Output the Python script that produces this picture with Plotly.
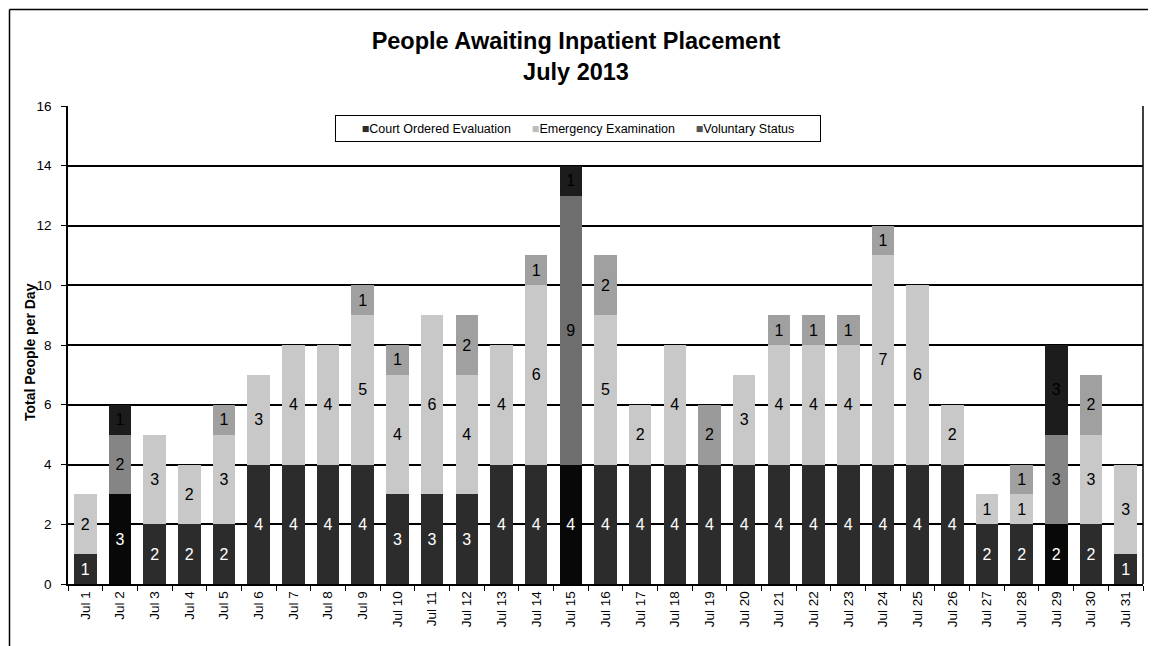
import plotly.graph_objects as go

days = [f"Jul {i}" for i in range(1, 32)]
court = [1, 3, 2, 2, 2, 4, 4, 4, 4, 3, 3, 3, 4, 4, 4, 4, 4, 4, 4, 4, 4, 4, 4, 4, 4, 4, 2, 2, 2, 2, 1]
emergency = [2, 2, 3, 2, 3, 3, 4, 4, 5, 4, 6, 4, 4, 6, 9, 5, 2, 4, 2, 3, 4, 4, 4, 7, 6, 2, 1, 1, 3, 3, 3]
voluntary = [0, 1, 0, 0, 1, 0, 0, 0, 1, 1, 0, 2, 0, 1, 1, 2, 0, 0, 0, 0, 1, 1, 1, 1, 0, 0, 0, 1, 3, 2, 0]
series_names = ["Court Ordered Evaluation", "Emergency Examination", "Voluntary Status"]

# highlighted days in the scan use darker / speckled fills
special = {"Jul 2", "Jul 15", "Jul 29"}
court_colors = ["#080808" if d in special else "#2c2c2c" for d in days]
emerg_colors = []
for d in days:
    if d == "Jul 15":
        emerg_colors.append("#6e6e6e")
    elif d in ("Jul 2", "Jul 29"):
        emerg_colors.append("#858585")
    elif d == "Jul 19":
        emerg_colors.append("#9a9a9a")
    else:
        emerg_colors.append("#c8c8c8")
vol_colors = ["#1c1c1c" if d in special else "#a0a0a0" for d in days]

def labels(vals):
    return [str(v) if v else "" for v in vals]

FONT = "Liberation Sans, Arial"
fig = go.Figure()
for name, vals, cols, tcol in [
    (series_names[0], court, court_colors, "white"),
    (series_names[1], emergency, emerg_colors, "black"),
    (series_names[2], voluntary, vol_colors, "black"),
]:
    fig.add_trace(go.Bar(
        name=name, x=days, y=vals,
        marker=dict(color=cols, line=dict(width=0)),
        text=labels(vals), textposition="inside", insidetextanchor="middle",
        textangle=0, constraintext="none",
        textfont=dict(color=tcol, size=16, family=FONT),
        showlegend=False,
    ))

# page body adds an 8px offset; figure is sized so it ends at the window edge
W, H = 1148, 638
fig.update_layout(
    barmode="stack",
    bargap=0.35,
    width=W, height=H,
    margin=dict(l=60, r=13, t=98, b=62, autoexpand=False),
    paper_bgcolor="white", plot_bgcolor="white",
    font=dict(family=FONT, color="black", size=13),
    title=dict(
        text="<b>People Awaiting Inpatient Placement<br>July 2013</b>",
        x=568 / W, xanchor="center", xref="container",
        y=0.935, yanchor="top", yref="container",
        font=dict(size=23.5, family=FONT, color="black"),
    ),
    showlegend=False,
    uniformtext=dict(mode=False),
)

# helpers: screen pixel -> paper coordinates (plot area spans x 68..1143, y 106..584)
def px(x):
    return (x - 68) / 1075

def py(y):
    return (584 - y) / 478

# legend drawn as a boxed line of text with coloured square markers
sep = "&nbsp;" * 6
legend_text = (
    "<span style='color:#2c2c2c'>■</span>" + series_names[0]
    + sep + "<span style='color:#bdbdbd'>■</span>" + series_names[1]
    + sep + "<span style='color:#555555'>■</span>" + series_names[2]
)
fig.add_annotation(
    text=legend_text, xref="paper", yref="paper",
    x=px(577.5), y=py(128.5), xanchor="center", yanchor="middle",
    showarrow=False, font=dict(size=12.5, family=FONT, color="black"),
    bordercolor="black", borderwidth=1, bgcolor="white",
    width=480, height=21, borderpad=2, align="center",
)

# y-axis title
fig.add_annotation(
    text="<b>Total People per Day</b>", xref="paper", yref="paper",
    x=px(30), y=py(352), xanchor="center", yanchor="middle", textangle=-90,
    showarrow=False, font=dict(size=14, family=FONT, color="black"),
)

fig.update_xaxes(
    type="category", tickangle=-90, showgrid=False, automargin=False,
    showline=True, linecolor="black", linewidth=1.5,
    ticks="outside", tickson="boundaries", ticklen=5, tickcolor="black",
    tickfont=dict(size=13.5, family=FONT),
)
fig.update_yaxes(
    range=[0, 16], dtick=2, showgrid=True, gridcolor="black", gridwidth=1.6,
    showline=True, linecolor="black", linewidth=1.5, automargin=False,
    ticks="outside", ticklen=5, tickcolor="black", tickfont=dict(size=13.5, family=FONT),
    ticklabelstandoff=7, zeroline=False,
)

# right border of plot area and outer chart frame (left and top)
fig.add_shape(type="line", xref="paper", yref="paper", x0=1, x1=1, y0=0, y1=1,
              line=dict(color="black", width=1.5))
fig.add_shape(type="line", xref="paper", yref="paper", x0=px(9.5), x1=px(9.5),
              y0=py(660), y1=py(9.5), line=dict(color="black", width=1.5))
fig.add_shape(type="line", xref="paper", yref="paper", x0=px(9.5), x1=px(1160),
              y0=py(9.5), y1=py(9.5), line=dict(color="black", width=1.5))

fig.write_html("out.html")
